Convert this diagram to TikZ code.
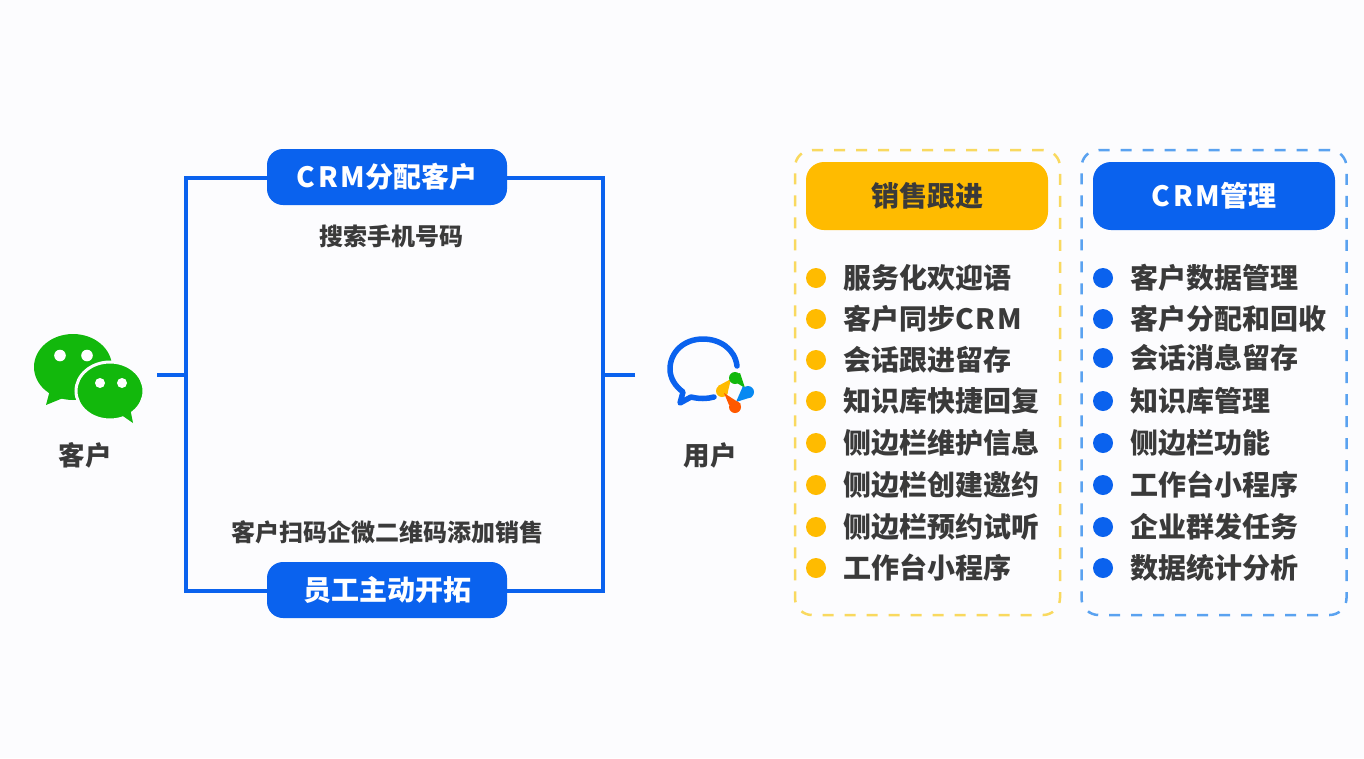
\documentclass[tikz,border=0pt]{standalone}
\usepackage{fontspec}
\setmainfont{Noto Sans CJK SC}
\newcommand{\widecrm}[1]{{\addfontfeatures{LetterSpace=9}#1}}
\definecolor{bg}{HTML}{FCFCFE}
\definecolor{brandblue}{HTML}{0A62EE}
\definecolor{gold}{HTML}{FFBB00}
\definecolor{ink}{HTML}{3A3A3A}
\definecolor{wxgreen}{HTML}{12B80C}
\definecolor{dashyellow}{HTML}{F9D95F}
\definecolor{dashblue}{HTML}{5AA2F0}
\tikzset{
  link/.style={draw=brandblue,line width=3.5pt},
  pill/.style={fill=brandblue,rounded corners=16pt,minimum width=240pt,minimum height=56pt,text=white,font=\fontsize{28}{28}\selectfont\bfseries,inner sep=0pt},
  header/.style={rounded corners=18pt,minimum width=242pt,minimum height=68pt,inner sep=0pt,font=\fontsize{28}{28}\selectfont\bfseries},
  frame/.style={rounded corners=17pt,dashed,dash pattern=on 11pt off 11pt,line width=2.5pt,minimum width=265pt,minimum height=465pt},
  caption/.style={text=ink,font=\fontsize{24}{24}\selectfont\bfseries,inner sep=0pt},
  bigcaption/.style={text=ink,font=\fontsize{26.5}{26.5}\selectfont\bfseries,inner sep=0pt},
  item/.style={text=ink,anchor=west,font=\fontsize{28}{28}\selectfont\bfseries,inner sep=0pt},
  dotY/.style={circle,fill=gold,minimum size=20pt,inner sep=0pt},
  dotB/.style={circle,fill=brandblue,minimum size=20pt,inner sep=0pt},
}
\begin{document}
\begin{tikzpicture}[x=1pt,y=-1pt]
\useasboundingbox[fill=bg] (0,0) rectangle (1364,758);
% connectors
\coordinate (lj) at (186,375);
\coordinate (rj) at (603,375);
\coordinate (ls) at (157,375);
\coordinate (rs) at (635,375);
\coordinate (tl) at (267,178);
\coordinate (tr) at (507,178);
\coordinate (bl) at (267,591);
\coordinate (br) at (507,591);
\draw[link] (ls) -- (lj);
\draw[link] (rs) -- (rj);
\draw[link] (tl) -| (lj) |- (bl);
\draw[link] (tr) -| (rj) |- (br);
\node[pill] (crm) at (387,177) {\widecrm{CRM}分配客户};
\node[pill] (staff) at (387,590) {员工主动开拓};
\node[caption] (search) at (391,236) {搜索手机号码};
\node[caption] (scan) at (387.5,532) {客户扫码企微二维码添加销售};
% WeChat icon
\fill[wxgreen] (73,367) ellipse [x radius=39,y radius=33];
\fill[wxgreen] (50,390) -- (46,405) -- (68,396) -- cycle;
\fill[wxgreen,draw=bg,line width=3pt] (110,391) ellipse [x radius=34,y radius=29];
\fill[wxgreen] (120,414) -- (133,423) -- (130,408) -- cycle;
\fill[white] (60,355.5) circle (5.8) (87,355.5) circle (5.8) (100,383) circle (5) (122,383) circle (5);
\node[bigcaption] (client) at (85,455) {客户};
% Enterprise WeChat icon
\draw[brandblue,line width=5.5pt,line cap=round,line join=round]
  (737,366) .. controls (735,349) and (720,339) .. (703,339)
  .. controls (684,339) and (670,352) .. (670,369)
  .. controls (670,378) and (675,386) .. (683,392)
  -- (680,403) -- (691,397)
  .. controls (699,399) and (707,399) .. (714,397);
\fill[gold] (722,391) circle (6);
\fill[gold] (718,386) -- (731,379) -- (727,395) -- cycle;
\fill[wxgreen] (735,378) circle (6);
\fill[wxgreen] (729,378) -- (740,373) -- (745,388) -- cycle;
\fill[brandblue!75!cyan] (748,392) circle (6);
\fill[brandblue!75!cyan] (743,386) -- (752,397) -- (736,402) -- cycle;
\fill[orange!70!red] (735,407) circle (6);
\fill[orange!70!red] (729,405) -- (741,404) -- (724,393) -- cycle;
\node[bigcaption] (user) at (710,455) {用户};
% Panels
\node[frame,draw=dashyellow] (pa) at (927.5,382.5) {};
\node[frame,draw=dashblue] (pb) at (1214,382.5) {};
\node[header,fill=gold,text=ink] (ha) at (927,196) {销售跟进};
\node[header,fill=brandblue,text=white] (hb) at (1214,196) {\widecrm{CRM}管理};
% Left list
\node[dotY] (a1) at (816,278) {}; \node[item] (ta1) at (843,278) {服务化欢迎语};
\node[dotY] (a2) at (816,319) {}; \node[item] (ta2) at (843,319) {客户同步{\addfontfeatures{LetterSpace=7}CRM}};
\node[dotY] (a3) at (816,360) {}; \node[item] (ta3) at (843,360) {会话跟进留存};
\node[dotY] (a4) at (816,401) {}; \node[item] (ta4) at (843,401) {知识库快捷回复};
\node[dotY] (a5) at (816,443) {}; \node[item] (ta5) at (843,443) {侧边栏维护信息};
\node[dotY] (a6) at (816,485) {}; \node[item] (ta6) at (843,485) {侧边栏创建邀约};
\node[dotY] (a7) at (816,527) {}; \node[item] (ta7) at (843,527) {侧边栏预约试听};
\node[dotY] (a8) at (816,568) {}; \node[item] (ta8) at (843,568) {工作台小程序};
% Right list
\node[dotB] (b1) at (1103,278) {}; \node[item] (tb1) at (1130,278) {客户数据管理};
\node[dotB] (b2) at (1103,319) {}; \node[item] (tb2) at (1130,319) {客户分配和回收};
\node[dotB] (b3) at (1103,358) {}; \node[item] (tb3) at (1130,358) {会话消息留存};
\node[dotB] (b4) at (1103,401) {}; \node[item] (tb4) at (1130,401) {知识库管理};
\node[dotB] (b5) at (1103,443) {}; \node[item] (tb5) at (1130,443) {侧边栏功能};
\node[dotB] (b6) at (1103,485) {}; \node[item] (tb6) at (1130,485) {工作台小程序};
\node[dotB] (b7) at (1103,527) {}; \node[item] (tb7) at (1130,527) {企业群发任务};
\node[dotB] (b8) at (1103,568) {}; \node[item] (tb8) at (1130,568) {数据统计分析};
\end{tikzpicture}
\end{document}
